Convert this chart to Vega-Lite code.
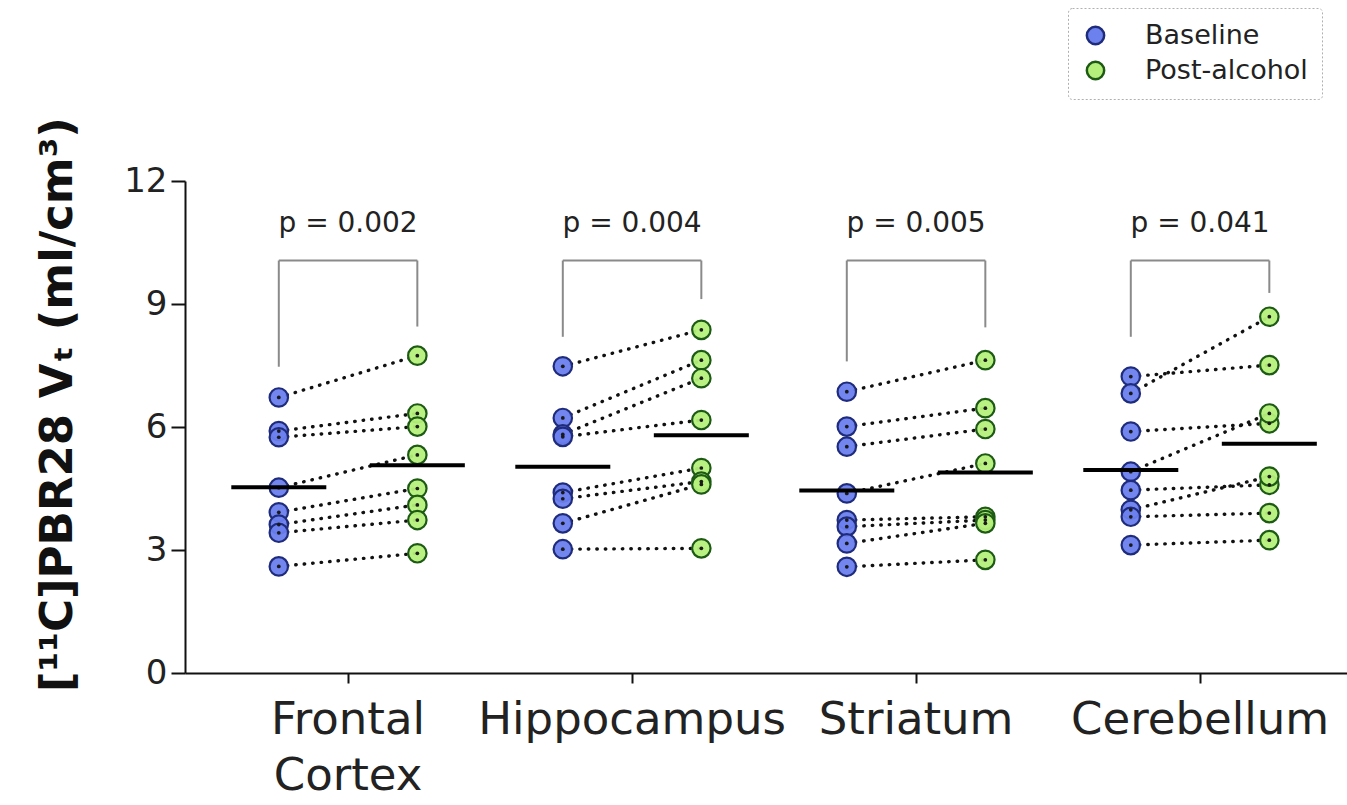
{
  "$schema": "https://vega.github.io/schema/vega-lite/v6.json",
  "width": 1162,
  "height": 492,
  "autosize": {"type": "none"},
  "padding": {"left": 185, "top": 181, "right": 0, "bottom": 132},
  "background": "white",
  "config": {
    "view": {"stroke": null},
    "font": "DejaVu Sans",
    "axis": {"labelColor": "#222222", "titleColor": "#111111", "grid": false},
    "legend": {
      "orient": "none",
      "legendX": 883,
      "legendY": -173,
      "padding": 14,
      "strokeColor": "#b0b0b0",
      "strokeDash": [2, 2],
      "cornerRadius": 4,
      "fillColor": "white",
      "labelFont": "DejaVu Sans",
      "labelFontSize": 27,
      "labelLimit": 0,
      "labelColor": "#222222",
      "labelOffset": 36,
      "symbolSize": 300,
      "symbolStrokeWidth": 2.5,
      "rowPadding": 6,
      "title": null
    }
  },
  "datasets": {
    "subjects": [
      {"region": "Frontal Cortex", "subject": 1, "condition": "Baseline", "vt": 6.72},
      {"region": "Frontal Cortex", "subject": 1, "condition": "Post-alcohol", "vt": 7.74},
      {"region": "Frontal Cortex", "subject": 2, "condition": "Baseline", "vt": 5.9},
      {"region": "Frontal Cortex", "subject": 2, "condition": "Post-alcohol", "vt": 6.33},
      {"region": "Frontal Cortex", "subject": 3, "condition": "Baseline", "vt": 5.75},
      {"region": "Frontal Cortex", "subject": 3, "condition": "Post-alcohol", "vt": 6.01},
      {"region": "Frontal Cortex", "subject": 4, "condition": "Baseline", "vt": 4.52},
      {"region": "Frontal Cortex", "subject": 4, "condition": "Post-alcohol", "vt": 5.32},
      {"region": "Frontal Cortex", "subject": 5, "condition": "Baseline", "vt": 3.92},
      {"region": "Frontal Cortex", "subject": 5, "condition": "Post-alcohol", "vt": 4.5},
      {"region": "Frontal Cortex", "subject": 6, "condition": "Baseline", "vt": 3.62},
      {"region": "Frontal Cortex", "subject": 6, "condition": "Post-alcohol", "vt": 4.1},
      {"region": "Frontal Cortex", "subject": 7, "condition": "Baseline", "vt": 3.42},
      {"region": "Frontal Cortex", "subject": 7, "condition": "Post-alcohol", "vt": 3.73},
      {"region": "Frontal Cortex", "subject": 8, "condition": "Baseline", "vt": 2.6},
      {"region": "Frontal Cortex", "subject": 8, "condition": "Post-alcohol", "vt": 2.92},
      {"region": "Hippocampus", "subject": 1, "condition": "Baseline", "vt": 7.48},
      {"region": "Hippocampus", "subject": 1, "condition": "Post-alcohol", "vt": 8.37},
      {"region": "Hippocampus", "subject": 2, "condition": "Baseline", "vt": 6.22},
      {"region": "Hippocampus", "subject": 2, "condition": "Post-alcohol", "vt": 7.63},
      {"region": "Hippocampus", "subject": 3, "condition": "Baseline", "vt": 5.82},
      {"region": "Hippocampus", "subject": 3, "condition": "Post-alcohol", "vt": 7.19},
      {"region": "Hippocampus", "subject": 4, "condition": "Baseline", "vt": 5.76},
      {"region": "Hippocampus", "subject": 4, "condition": "Post-alcohol", "vt": 6.17},
      {"region": "Hippocampus", "subject": 5, "condition": "Baseline", "vt": 4.4},
      {"region": "Hippocampus", "subject": 5, "condition": "Post-alcohol", "vt": 5.0},
      {"region": "Hippocampus", "subject": 6, "condition": "Baseline", "vt": 4.25},
      {"region": "Hippocampus", "subject": 6, "condition": "Post-alcohol", "vt": 4.67},
      {"region": "Hippocampus", "subject": 7, "condition": "Baseline", "vt": 3.65},
      {"region": "Hippocampus", "subject": 7, "condition": "Post-alcohol", "vt": 4.6},
      {"region": "Hippocampus", "subject": 8, "condition": "Baseline", "vt": 3.02},
      {"region": "Hippocampus", "subject": 8, "condition": "Post-alcohol", "vt": 3.04},
      {"region": "Striatum", "subject": 1, "condition": "Baseline", "vt": 6.86},
      {"region": "Striatum", "subject": 1, "condition": "Post-alcohol", "vt": 7.63},
      {"region": "Striatum", "subject": 2, "condition": "Baseline", "vt": 6.01},
      {"region": "Striatum", "subject": 2, "condition": "Post-alcohol", "vt": 6.46},
      {"region": "Striatum", "subject": 3, "condition": "Baseline", "vt": 5.52},
      {"region": "Striatum", "subject": 3, "condition": "Post-alcohol", "vt": 5.95},
      {"region": "Striatum", "subject": 4, "condition": "Baseline", "vt": 4.38},
      {"region": "Striatum", "subject": 4, "condition": "Post-alcohol", "vt": 5.11},
      {"region": "Striatum", "subject": 5, "condition": "Baseline", "vt": 3.73},
      {"region": "Striatum", "subject": 5, "condition": "Post-alcohol", "vt": 3.81},
      {"region": "Striatum", "subject": 6, "condition": "Baseline", "vt": 3.57},
      {"region": "Striatum", "subject": 6, "condition": "Post-alcohol", "vt": 3.73},
      {"region": "Striatum", "subject": 7, "condition": "Baseline", "vt": 3.16},
      {"region": "Striatum", "subject": 7, "condition": "Post-alcohol", "vt": 3.65},
      {"region": "Striatum", "subject": 8, "condition": "Baseline", "vt": 2.59},
      {"region": "Striatum", "subject": 8, "condition": "Post-alcohol", "vt": 2.76},
      {"region": "Cerebellum", "subject": 1, "condition": "Baseline", "vt": 7.23},
      {"region": "Cerebellum", "subject": 1, "condition": "Post-alcohol", "vt": 7.51},
      {"region": "Cerebellum", "subject": 2, "condition": "Baseline", "vt": 6.82},
      {"region": "Cerebellum", "subject": 2, "condition": "Post-alcohol", "vt": 8.69},
      {"region": "Cerebellum", "subject": 3, "condition": "Baseline", "vt": 5.89},
      {"region": "Cerebellum", "subject": 3, "condition": "Post-alcohol", "vt": 6.09},
      {"region": "Cerebellum", "subject": 4, "condition": "Baseline", "vt": 4.91},
      {"region": "Cerebellum", "subject": 4, "condition": "Post-alcohol", "vt": 6.33},
      {"region": "Cerebellum", "subject": 5, "condition": "Baseline", "vt": 4.46},
      {"region": "Cerebellum", "subject": 5, "condition": "Post-alcohol", "vt": 4.59},
      {"region": "Cerebellum", "subject": 6, "condition": "Baseline", "vt": 3.98},
      {"region": "Cerebellum", "subject": 6, "condition": "Post-alcohol", "vt": 4.79},
      {"region": "Cerebellum", "subject": 7, "condition": "Baseline", "vt": 3.81},
      {"region": "Cerebellum", "subject": 7, "condition": "Post-alcohol", "vt": 3.9},
      {"region": "Cerebellum", "subject": 8, "condition": "Baseline", "vt": 3.12},
      {"region": "Cerebellum", "subject": 8, "condition": "Post-alcohol", "vt": 3.24}
    ],
    "means": [
      {"region": "Frontal Cortex", "condition": "Baseline", "mean": 4.53},
      {"region": "Frontal Cortex", "condition": "Post-alcohol", "mean": 5.07},
      {"region": "Hippocampus", "condition": "Baseline", "mean": 5.03},
      {"region": "Hippocampus", "condition": "Post-alcohol", "mean": 5.8},
      {"region": "Striatum", "condition": "Baseline", "mean": 4.45},
      {"region": "Striatum", "condition": "Post-alcohol", "mean": 4.89},
      {"region": "Cerebellum", "condition": "Baseline", "mean": 4.95},
      {"region": "Cerebellum", "condition": "Post-alcohol", "mean": 5.59}
    ],
    "brackets": [
      {"region": "Frontal Cortex", "condition": "Baseline", "top": 10.06, "leg": 7.47},
      {"region": "Frontal Cortex", "condition": "Post-alcohol", "top": 10.06, "leg": 8.45},
      {"region": "Hippocampus", "condition": "Baseline", "top": 10.06, "leg": 8.2},
      {"region": "Hippocampus", "condition": "Post-alcohol", "top": 10.06, "leg": 9.12},
      {"region": "Striatum", "condition": "Baseline", "top": 10.06, "leg": 7.6},
      {"region": "Striatum", "condition": "Post-alcohol", "top": 10.06, "leg": 8.43},
      {"region": "Cerebellum", "condition": "Baseline", "top": 10.06, "leg": 8.2},
      {"region": "Cerebellum", "condition": "Post-alcohol", "top": 10.06, "leg": 9.27}
    ],
    "tests": [
      {"region": "Frontal Cortex", "label": "p = 0.002"},
      {"region": "Hippocampus", "label": "p = 0.004"},
      {"region": "Striatum", "label": "p = 0.005"},
      {"region": "Cerebellum", "label": "p = 0.041"}
    ]
  },
  "encoding": {
    "x": {
      "field": "region",
      "type": "nominal",
      "sort": ["Frontal Cortex", "Hippocampus", "Striatum", "Cerebellum"],
      "scale": {"paddingInner": 0, "paddingOuter": 0.0458, "align": 0.81},
      "axis": {
        "title": null,
        "labelAngle": 0,
        "labelFont": "DejaVu Sans",
        "labelFontSize": 45,
        "labelLimit": 0,
        "labelColor": "#222222",
        "labelPadding": 14,
        "labelBaseline": "top",
        "labelLineHeight": 56,
        "labelExpr": "datum.label == 'Frontal Cortex' ? ['Frontal', 'Cortex'] : datum.label",
        "domainColor": "#111111",
        "domainWidth": 2,
        "tickColor": "#111111",
        "tickWidth": 2,
        "tickSize": 10
      }
    }
  },
  "layer": [
    {
      "data": {"name": "subjects"},
      "mark": {"type": "line", "stroke": "#111111", "strokeWidth": 3.4, "strokeDash": [0.5, 8], "strokeCap": "round"},
      "encoding": {
        "xOffset": {"field": "condition", "type": "nominal", "sort": ["Baseline", "Post-alcohol"], "scale": {"paddingInner": 0, "paddingOuter": 0.025}},
        "y": {
          "field": "vt",
          "type": "quantitative",
          "scale": {"domain": [0, 12], "nice": false, "zero": true},
          "axis": {
            "title": "[¹¹C]PBR28 Vₜ (ml/cm³)",
            "titleFont": "DejaVu Sans",
            "titleFontSize": 45,
            "titleFontWeight": "bold",
            "titleX": -105,
            "titleY": 223,
            "titleAngle": -90,
            "titleAlign": "center",
            "titleBaseline": "bottom",
            "values": [0, 3, 6, 9, 12],
            "labelFont": "DejaVu Sans",
            "labelFontSize": 34,
            "labelPadding": 4,
            "domainColor": "#111111",
            "domainWidth": 2,
            "tickColor": "#111111",
            "tickWidth": 2,
            "tickSize": 14
          }
        },
        "detail": [
          {"field": "region", "type": "nominal"},
          {"field": "subject", "type": "nominal"}
        ],
        "order": {"field": "condition", "sort": "ascending"}
      }
    },
    {
      "data": {"name": "brackets"},
      "mark": {"type": "rule", "stroke": "#8a8a8a", "strokeWidth": 2},
      "encoding": {
        "xOffset": {"field": "condition", "type": "nominal", "sort": ["Baseline", "Post-alcohol"]},
        "y": {"field": "top", "type": "quantitative"},
        "y2": {"field": "leg"}
      }
    },
    {
      "data": {"name": "brackets"},
      "mark": {"type": "line", "stroke": "#8a8a8a", "strokeWidth": 2},
      "encoding": {
        "xOffset": {"field": "condition", "type": "nominal", "sort": ["Baseline", "Post-alcohol"]},
        "y": {"field": "top", "type": "quantitative"},
        "detail": {"field": "region", "type": "nominal"}
      }
    },
    {
      "data": {"name": "tests"},
      "mark": {"type": "text", "font": "DejaVu Sans", "fontSize": 28, "color": "#222222", "baseline": "middle"},
      "encoding": {
        "y": {"datum": 10.95},
        "text": {"field": "label"}
      }
    },
    {
      "data": {"name": "subjects"},
      "mark": {"type": "point", "filled": true, "size": 340, "strokeWidth": 2.2, "opacity": 1, "fillOpacity": 0.95},
      "encoding": {
        "xOffset": {"field": "condition", "type": "nominal", "sort": ["Baseline", "Post-alcohol"]},
        "y": {"field": "vt", "type": "quantitative"},
        "fill": {
          "field": "condition",
          "type": "nominal",
          "scale": {"domain": ["Baseline", "Post-alcohol"], "range": ["#6c80ee", "#b6f07c"]}
        },
        "stroke": {
          "field": "condition",
          "type": "nominal",
          "scale": {"domain": ["Baseline", "Post-alcohol"], "range": ["#1f2c7c", "#1d5a14"]}
        }
      }
    },
    {
      "data": {"name": "subjects"},
      "mark": {"type": "point", "filled": true, "size": 14, "color": "#1a1a1a", "opacity": 1},
      "encoding": {
        "xOffset": {"field": "condition", "type": "nominal", "sort": ["Baseline", "Post-alcohol"]},
        "y": {"field": "vt", "type": "quantitative"}
      }
    },
    {
      "data": {"name": "means"},
      "mark": {"type": "tick", "color": "#000000", "opacity": 1, "size": 95, "thickness": 4, "orient": "horizontal"},
      "encoding": {
        "xOffset": {"field": "condition", "type": "nominal", "sort": ["Baseline", "Post-alcohol"]},
        "y": {"field": "mean", "type": "quantitative"}
      }
    }
  ]
}
